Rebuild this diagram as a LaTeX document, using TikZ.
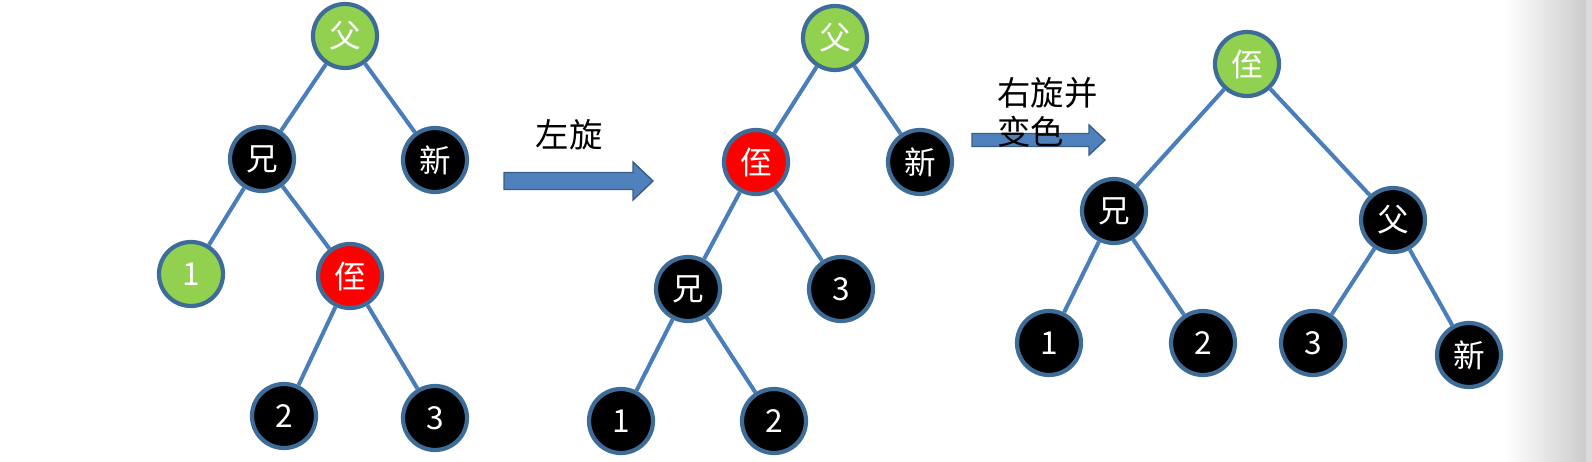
\documentclass[tikz,border=0pt]{standalone}
\usepackage{fontspec}
\setmainfont{Noto Sans CJK SC}
\definecolor{ringblue}{RGB}{62,108,152}
\definecolor{linkblue}{RGB}{74,126,187}
\definecolor{arrowfill}{RGB}{79,129,189}
\definecolor{arrowline}{RGB}{56,93,138}
\definecolor{nodegreen}{RGB}{146,208,80}
\definecolor{nodered}{RGB}{255,0,0}

\begin{document}
\begin{tikzpicture}[x=0.02cm,y=-0.02cm,
  rbnode/.style={circle,draw=ringblue,line width=2.4pt,minimum size=1.28cm,
    inner sep=0pt,text=white,font=\fontsize{18}{18}\selectfont},
  blacknode/.style={rbnode,fill=black},
  rednode/.style={rbnode,fill=nodered},
  greennode/.style={rbnode,fill=nodegreen},
  link/.style={draw=linkblue,line width=2.3pt},
  blockarrow/.style={fill=arrowfill,draw=arrowline,line width=0.8pt},
  caption/.style={inner sep=0pt,font=\fontsize{19}{22}\selectfont}]
  \useasboundingbox (0,0) rectangle (1592,462);
  % grey edge at the right
  \shade[left color=white,right color=black!20] (1505,0) rectangle (1586,462);
  \fill[black!14] (1586,0) rectangle (1592,462);

  % first tree
  \node[greennode] (fuA) at (345,36) {父};
  \node[blacknode] (xiongA) at (262,159) {兄};
  \node[blacknode] (xinA) at (435,160) {新};
  \node[greennode] (oneA) at (191,274) {1};
  \node[rednode] (zhiA) at (350,276) {侄};
  \node[blacknode] (twoA) at (284,416) {2};
  \node[blacknode] (threeA) at (435,418) {3};

  % second tree
  \node[greennode] (fuB) at (835,38) {父};
  \node[rednode] (zhiB) at (756,162) {侄};
  \node[blacknode] (xinB) at (920,162) {新};
  \node[blacknode] (xiongB) at (688,289) {兄};
  \node[blacknode] (threeB) at (841,289) {3};
  \node[blacknode] (oneB) at (621,421) {1};
  \node[blacknode] (twoB) at (774,421) {2};

  % third tree
  \node[greennode] (zhiC) at (1247,64) {侄};
  \node[blacknode] (xiongC) at (1114,211) {兄};
  \node[blacknode] (fuC) at (1393,220) {父};
  \node[blacknode] (oneC) at (1049,343) {1};
  \node[blacknode] (twoC) at (1203,343) {2};
  \node[blacknode] (threeC) at (1313,343) {3};
  \node[blacknode] (xinC) at (1469,355) {新};

  % links
  \foreach \a/\b in {fuA/xiongA,fuA/xinA,xiongA/oneA,xiongA/zhiA,zhiA/twoA,zhiA/threeA,
    fuB/zhiB,fuB/xinB,zhiB/xiongB,zhiB/threeB,xiongB/oneB,xiongB/twoB,
    zhiC/xiongC,zhiC/fuC,xiongC/oneC,xiongC/twoC,fuC/threeC,fuC/xinC}
    \draw[link] (\a) -- (\b);

  % rotation arrows
  \draw[blockarrow] (504,172.5) -- (633,172.5) -- (633,162) -- (653,181)
    -- (633,200) -- (633,189.5) -- (504,189.5) -- cycle;
  \node[caption] (leftrot) at (569,135) {左旋};
  \draw[blockarrow] (972,133.5) -- (1089,133.5) -- (1089,125) -- (1105,140)
    -- (1089,155) -- (1089,146.5) -- (972,146.5) -- cycle;
  \node[caption,anchor=west,align=left] (rightrot) at (997,112) {右旋并\\变色};
\end{tikzpicture}
\end{document}
